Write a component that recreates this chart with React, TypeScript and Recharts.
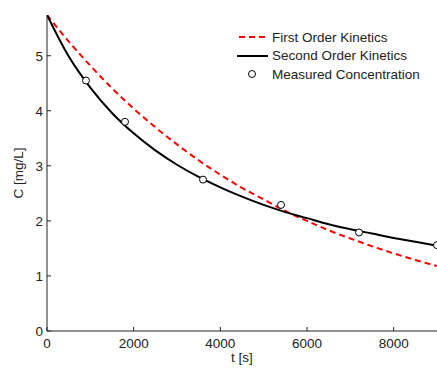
import {
  ComposedChart, Line, Scatter, XAxis, YAxis, Legend,
} from "recharts";

// time axis [s] for the model curves
const times = [0, 500, 1000, 1500, 2000, 2500, 3000, 3500, 4000, 4500, 5000, 5500, 6000, 6500, 7000, 7500, 8000, 8500, 9000];
// first order model, C [mg/L]
const firstOrder = [5.74, 5.26, 4.82, 4.41, 4.04, 3.70, 3.39, 3.10, 2.84, 2.60, 2.39, 2.18, 2.0, 1.83, 1.68, 1.54, 1.41, 1.29, 1.18];
// second order model, C [mg/L]
const secondOrder = [5.74, 4.99, 4.42, 3.96, 3.59, 3.28, 3.02, 2.80, 2.61, 2.44, 2.29, 2.16, 2.05, 1.94, 1.85, 1.77, 1.69, 1.62, 1.55];
// measurements
const measuredTimes = [900, 1800, 3600, 5400, 7200, 9000];
const measuredValues = [4.55, 3.8, 2.75, 2.29, 1.79, 1.56];

const xTicks = [0, 2000, 4000, 6000, 8000];
const yTicks = [0, 1, 2, 3, 4, 5];

const firstData = times.map((t, i) => ({ t, c: firstOrder[i] }));
const secondData = times.map((t, i) => ({ t, c: secondOrder[i] }));
const measuredData = measuredTimes.map((t, i) => ({ t, c: measuredValues[i] }));

const FONT = "'Liberation Sans', Arial, Helvetica, sans-serif";
const INK = "#222";
const FS = 13.5;

const BottomTick = ({ x, y, payload }: any) => (
  <g>
    <line x1={x} x2={x} y1={y} y2={y - 4} stroke={INK} />
    <text x={x} y={y + 17} textAnchor="middle" fontSize={FS} fontFamily={FONT} fill={INK}>
      {payload.value}
    </text>
  </g>
);
const TopTick = ({ x, y }: any) => <line x1={x} x2={x} y1={y} y2={y + 4} stroke={INK} />;
const LeftTick = ({ x, y, payload }: any) => (
  <g>
    <line x1={x} x2={x + 4} y1={y} y2={y} stroke={INK} />
    <text x={x - 4} y={y + 4.8} textAnchor="end" fontSize={FS} fontFamily={FONT} fill={INK}>
      {payload.value}
    </text>
  </g>
);
const RightTick = ({ x, y }: any) => <line x1={x - 4} x2={x} y1={y} y2={y} stroke={INK} />;

const YLabel = ({ viewBox }: any) => {
  const cx = viewBox.x + 18;
  const cy = viewBox.y + viewBox.height / 2;
  return (
    <text
      x={cx} y={cy} transform={`rotate(-90 ${cx} ${cy})`} textAnchor="middle" dy={4.5}
      fontSize={FS} fontFamily={FONT} fill={INK}
    >
      C [mg/L]
    </text>
  );
};

const LegendBox = () => {
  const row = { display: "flex", alignItems: "center", height: 18.5 } as const;
  const txt = { fontSize: FS, fontFamily: FONT, color: INK, marginLeft: 2, whiteSpace: "nowrap" } as const;
  return (
    <div>
      <div style={row}>
        <svg width={34} height={18}>
          <line x1={3} x2={31} y1={9} y2={9} stroke="#ff0000" strokeWidth={2} strokeDasharray="6 4" />
        </svg>
        <span style={txt}>First Order Kinetics</span>
      </div>
      <div style={row}>
        <svg width={34} height={18}>
          <line x1={1} x2={32} y1={9} y2={9} stroke="#000" strokeWidth={2} />
        </svg>
        <span style={txt}>Second Order Kinetics</span>
      </div>
      <div style={row}>
        <svg width={34} height={18}>
          <circle cx={16} cy={9} r={3.5} fill="#fff" stroke="#000" />
        </svg>
        <span style={txt}>Measured Concentration</span>
      </div>
    </div>
  );
};

export default function App() {
  return (
    <div style={{ position: "absolute", left: 0, top: 0, background: "#fff" }}>
      <ComposedChart width={437} height={368} margin={{ top: 15, right: 0, bottom: 0, left: 0 }}>
        <XAxis
          dataKey="t" type="number" domain={[0, 9000]} ticks={xTicks} allowDataOverflow
          height={37} tickSize={0} tickMargin={0} tick={<BottomTick />}
          axisLine={{ stroke: INK }}
          label={{ value: "t [s]", position: "insideBottom", offset: 6, fontSize: FS, fontFamily: FONT, fill: INK }}
        />
        <XAxis
          xAxisId="top" orientation="top" dataKey="t" type="number" domain={[0, 9000]} ticks={xTicks}
          allowDataOverflow height={0} tickSize={0} tickMargin={0} tick={<TopTick />}
          axisLine={{ stroke: INK }}
        />
        <YAxis
          type="number" domain={[0, 5.74]} ticks={yTicks} allowDataOverflow
          width={47} tickSize={0} tickMargin={0} tick={<LeftTick />}
          axisLine={{ stroke: INK }}
          label={<YLabel />}
        />
        <YAxis
          yAxisId="right" orientation="right" type="number" domain={[0, 5.74]} ticks={yTicks}
          allowDataOverflow width={0} tickSize={0} tickMargin={0} tick={<RightTick />}
          axisLine={{ stroke: INK }}
        />
        <Legend
          layout="vertical" align="center" verticalAlign="middle"
          content={<LegendBox />}
          wrapperStyle={{ top: 28, left: 236, width: "auto", height: "auto" }}
        />
        <Line
          data={firstData} dataKey="c" type="monotone" stroke="#ff0000" strokeWidth={2}
          strokeDasharray="6 4" dot={false} isAnimationActive={false}
        />
        <Line
          data={secondData} dataKey="c" type="monotone" stroke="#000" strokeWidth={2}
          dot={false} isAnimationActive={false}
        />
        <Scatter
          data={measuredData} dataKey="c" isAnimationActive={false}
          shape={(p: any) => <circle cx={p.cx} cy={p.cy} r={3.5} fill="#fff" stroke="#000" />}
        />
      </ComposedChart>
    </div>
  );
}
